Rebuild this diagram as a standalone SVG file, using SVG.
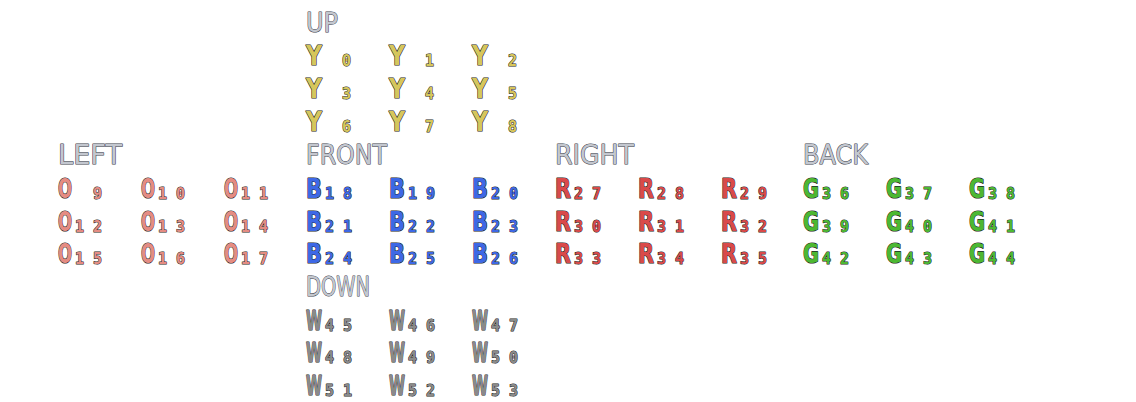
<svg xmlns="http://www.w3.org/2000/svg" width="1136" height="402" viewBox="0 0 1136 402">
<style>
text{font-family:"DejaVu Sans Condensed","DejaVu Sans",sans-serif;paint-order:stroke;stroke-linejoin:round}
.t{font-size:27px;fill:#c3c7cf;stroke:#3e424c;stroke-width:1}
.L{font-size:27px;font-weight:bold;stroke:#1c1c22;stroke-width:1.2}
.d{font-family:"DejaVu Sans Mono",monospace;font-size:15px;font-weight:bold;stroke:#1c1c22;stroke-width:1}
.y{fill:#d6c65c}.o{fill:#e58c82}.b{fill:#3d68e6}.r{fill:#d94a4a}.g{fill:#4cb832}.w{fill:#8a8a8a}
</style>
<g id="titles">
<text class="t" x="306" y="32" textLength="32" lengthAdjust="spacingAndGlyphs">UP</text>
<text class="t" x="58" y="164" textLength="64" lengthAdjust="spacingAndGlyphs">LEFT</text>
<text class="t" x="306" y="164" textLength="81" lengthAdjust="spacingAndGlyphs">FRONT</text>
<text class="t" x="555" y="164" textLength="79" lengthAdjust="spacingAndGlyphs">RIGHT</text>
<text class="t" x="803" y="164" textLength="65" lengthAdjust="spacingAndGlyphs">BACK</text>
<text class="t" x="306" y="296" textLength="64" lengthAdjust="spacingAndGlyphs">DOWN</text>
</g>
<g id="up">
<g id="c0"><text class="L y" x="306" y="65" textLength="16" lengthAdjust="spacingAndGlyphs">Y</text><text class="d y" x="342" y="66">0</text></g>
<g id="c1"><text class="L y" x="389" y="65" textLength="16" lengthAdjust="spacingAndGlyphs">Y</text><text class="d y" x="425" y="66">1</text></g>
<g id="c2"><text class="L y" x="472" y="65" textLength="16" lengthAdjust="spacingAndGlyphs">Y</text><text class="d y" x="508" y="66">2</text></g>
<g id="c3"><text class="L y" x="306" y="98" textLength="16" lengthAdjust="spacingAndGlyphs">Y</text><text class="d y" x="342" y="99">3</text></g>
<g id="c4"><text class="L y" x="389" y="98" textLength="16" lengthAdjust="spacingAndGlyphs">Y</text><text class="d y" x="425" y="99">4</text></g>
<g id="c5"><text class="L y" x="472" y="98" textLength="16" lengthAdjust="spacingAndGlyphs">Y</text><text class="d y" x="508" y="99">5</text></g>
<g id="c6"><text class="L y" x="306" y="131" textLength="16" lengthAdjust="spacingAndGlyphs">Y</text><text class="d y" x="342" y="132">6</text></g>
<g id="c7"><text class="L y" x="389" y="131" textLength="16" lengthAdjust="spacingAndGlyphs">Y</text><text class="d y" x="425" y="132">7</text></g>
<g id="c8"><text class="L y" x="472" y="131" textLength="16" lengthAdjust="spacingAndGlyphs">Y</text><text class="d y" x="508" y="132">8</text></g>
</g>
<g id="left">
<g id="c9"><text class="L o" x="58" y="198" textLength="14" lengthAdjust="spacingAndGlyphs">O</text><text class="d o" x="93" y="199">9</text></g>
<g id="c10"><text class="L o" x="141" y="198" textLength="14" lengthAdjust="spacingAndGlyphs">O</text><text class="d o" x="158 176" y="199">10</text></g>
<g id="c11"><text class="L o" x="224" y="198" textLength="14" lengthAdjust="spacingAndGlyphs">O</text><text class="d o" x="241 259" y="199">11</text></g>
<g id="c12"><text class="L o" x="58" y="231" textLength="14" lengthAdjust="spacingAndGlyphs">O</text><text class="d o" x="75 93" y="232">12</text></g>
<g id="c13"><text class="L o" x="141" y="231" textLength="14" lengthAdjust="spacingAndGlyphs">O</text><text class="d o" x="158 176" y="232">13</text></g>
<g id="c14"><text class="L o" x="224" y="231" textLength="14" lengthAdjust="spacingAndGlyphs">O</text><text class="d o" x="241 259" y="232">14</text></g>
<g id="c15"><text class="L o" x="58" y="263" textLength="14" lengthAdjust="spacingAndGlyphs">O</text><text class="d o" x="75 93" y="264">15</text></g>
<g id="c16"><text class="L o" x="141" y="263" textLength="14" lengthAdjust="spacingAndGlyphs">O</text><text class="d o" x="158 176" y="264">16</text></g>
<g id="c17"><text class="L o" x="224" y="263" textLength="14" lengthAdjust="spacingAndGlyphs">O</text><text class="d o" x="241 259" y="264">17</text></g>
</g>
<g id="front">
<g id="c18"><text class="L b" x="306" y="198" textLength="16" lengthAdjust="spacingAndGlyphs">B</text><text class="d b" x="325 343" y="199">18</text></g>
<g id="c19"><text class="L b" x="389" y="198" textLength="16" lengthAdjust="spacingAndGlyphs">B</text><text class="d b" x="408 426" y="199">19</text></g>
<g id="c20"><text class="L b" x="472" y="198" textLength="16" lengthAdjust="spacingAndGlyphs">B</text><text class="d b" x="491 509" y="199">20</text></g>
<g id="c21"><text class="L b" x="306" y="231" textLength="16" lengthAdjust="spacingAndGlyphs">B</text><text class="d b" x="325 343" y="232">21</text></g>
<g id="c22"><text class="L b" x="389" y="231" textLength="16" lengthAdjust="spacingAndGlyphs">B</text><text class="d b" x="408 426" y="232">22</text></g>
<g id="c23"><text class="L b" x="472" y="231" textLength="16" lengthAdjust="spacingAndGlyphs">B</text><text class="d b" x="491 509" y="232">23</text></g>
<g id="c24"><text class="L b" x="306" y="263" textLength="16" lengthAdjust="spacingAndGlyphs">B</text><text class="d b" x="325 343" y="264">24</text></g>
<g id="c25"><text class="L b" x="389" y="263" textLength="16" lengthAdjust="spacingAndGlyphs">B</text><text class="d b" x="408 426" y="264">25</text></g>
<g id="c26"><text class="L b" x="472" y="263" textLength="16" lengthAdjust="spacingAndGlyphs">B</text><text class="d b" x="491 509" y="264">26</text></g>
</g>
<g id="right">
<g id="c27"><text class="L r" x="555" y="198" textLength="16" lengthAdjust="spacingAndGlyphs">R</text><text class="d r" x="574 592" y="199">27</text></g>
<g id="c28"><text class="L r" x="638" y="198" textLength="16" lengthAdjust="spacingAndGlyphs">R</text><text class="d r" x="657 675" y="199">28</text></g>
<g id="c29"><text class="L r" x="721" y="198" textLength="16" lengthAdjust="spacingAndGlyphs">R</text><text class="d r" x="740 758" y="199">29</text></g>
<g id="c30"><text class="L r" x="555" y="231" textLength="16" lengthAdjust="spacingAndGlyphs">R</text><text class="d r" x="574 592" y="232">30</text></g>
<g id="c31"><text class="L r" x="638" y="231" textLength="16" lengthAdjust="spacingAndGlyphs">R</text><text class="d r" x="657 675" y="232">31</text></g>
<g id="c32"><text class="L r" x="721" y="231" textLength="16" lengthAdjust="spacingAndGlyphs">R</text><text class="d r" x="740 758" y="232">32</text></g>
<g id="c33"><text class="L r" x="555" y="263" textLength="16" lengthAdjust="spacingAndGlyphs">R</text><text class="d r" x="574 592" y="264">33</text></g>
<g id="c34"><text class="L r" x="638" y="263" textLength="16" lengthAdjust="spacingAndGlyphs">R</text><text class="d r" x="657 675" y="264">34</text></g>
<g id="c35"><text class="L r" x="721" y="263" textLength="16" lengthAdjust="spacingAndGlyphs">R</text><text class="d r" x="740 758" y="264">35</text></g>
</g>
<g id="back">
<g id="c36"><text class="L g" x="803" y="198" textLength="16" lengthAdjust="spacingAndGlyphs">G</text><text class="d g" x="822 840" y="199">36</text></g>
<g id="c37"><text class="L g" x="886" y="198" textLength="16" lengthAdjust="spacingAndGlyphs">G</text><text class="d g" x="905 923" y="199">37</text></g>
<g id="c38"><text class="L g" x="969" y="198" textLength="16" lengthAdjust="spacingAndGlyphs">G</text><text class="d g" x="988 1006" y="199">38</text></g>
<g id="c39"><text class="L g" x="803" y="231" textLength="16" lengthAdjust="spacingAndGlyphs">G</text><text class="d g" x="822 840" y="232">39</text></g>
<g id="c40"><text class="L g" x="886" y="231" textLength="16" lengthAdjust="spacingAndGlyphs">G</text><text class="d g" x="905 923" y="232">40</text></g>
<g id="c41"><text class="L g" x="969" y="231" textLength="16" lengthAdjust="spacingAndGlyphs">G</text><text class="d g" x="988 1006" y="232">41</text></g>
<g id="c42"><text class="L g" x="803" y="263" textLength="16" lengthAdjust="spacingAndGlyphs">G</text><text class="d g" x="822 840" y="264">42</text></g>
<g id="c43"><text class="L g" x="886" y="263" textLength="16" lengthAdjust="spacingAndGlyphs">G</text><text class="d g" x="905 923" y="264">43</text></g>
<g id="c44"><text class="L g" x="969" y="263" textLength="16" lengthAdjust="spacingAndGlyphs">G</text><text class="d g" x="988 1006" y="264">44</text></g>
</g>
<g id="down">
<g id="c45"><text class="L w" x="306" y="330" textLength="16" lengthAdjust="spacingAndGlyphs">W</text><text class="d w" x="325 343" y="331">45</text></g>
<g id="c46"><text class="L w" x="389" y="330" textLength="16" lengthAdjust="spacingAndGlyphs">W</text><text class="d w" x="408 426" y="331">46</text></g>
<g id="c47"><text class="L w" x="472" y="330" textLength="16" lengthAdjust="spacingAndGlyphs">W</text><text class="d w" x="491 509" y="331">47</text></g>
<g id="c48"><text class="L w" x="306" y="362" textLength="16" lengthAdjust="spacingAndGlyphs">W</text><text class="d w" x="325 343" y="363">48</text></g>
<g id="c49"><text class="L w" x="389" y="362" textLength="16" lengthAdjust="spacingAndGlyphs">W</text><text class="d w" x="408 426" y="363">49</text></g>
<g id="c50"><text class="L w" x="472" y="362" textLength="16" lengthAdjust="spacingAndGlyphs">W</text><text class="d w" x="491 509" y="363">50</text></g>
<g id="c51"><text class="L w" x="306" y="395" textLength="16" lengthAdjust="spacingAndGlyphs">W</text><text class="d w" x="325 343" y="396">51</text></g>
<g id="c52"><text class="L w" x="389" y="395" textLength="16" lengthAdjust="spacingAndGlyphs">W</text><text class="d w" x="408 426" y="396">52</text></g>
<g id="c53"><text class="L w" x="472" y="395" textLength="16" lengthAdjust="spacingAndGlyphs">W</text><text class="d w" x="491 509" y="396">53</text></g>
</g>
<g id="connectors"></g>
</svg>
